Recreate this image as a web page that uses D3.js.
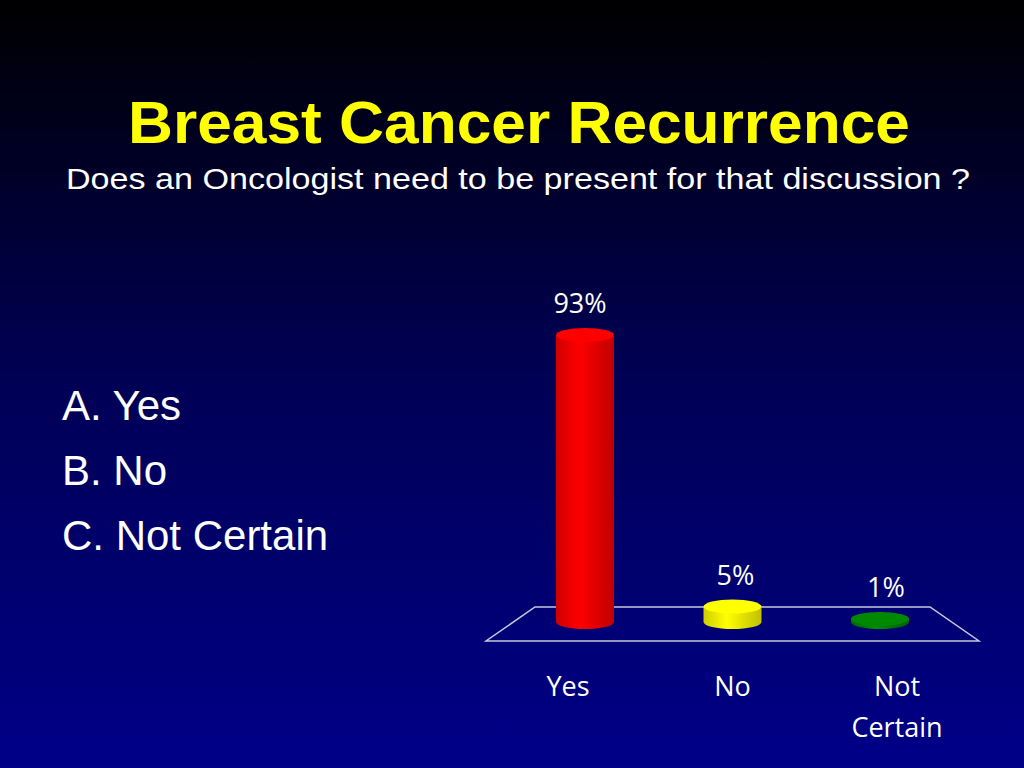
<!DOCTYPE html>
<html><head><meta charset="utf-8">
<script src="https://cdn.jsdelivr.net/npm/d3@7"></script>
<style>body{margin:0;overflow:hidden}</style>
</head><body>
<script>
const categories = ["Yes", "No", "Not Certain"];
const values = [93, 5, 1];
const valueLabels = ["93%", "5%", "1%"];
const colors = ["#ff0000", "#ffff00", "#008000"];
const options = ["A. Yes", "B. No", "C. Not Certain"];

const W = 1024, H = 768;
const svg = d3.select("body").append("svg").attr("width", W).attr("height", H);
const defs = svg.append("defs");
const bg = defs.append("linearGradient").attr("id","bg").attr("x1",0).attr("y1",0).attr("x2",0).attr("y2",1);
bg.append("stop").attr("offset","0%").attr("stop-color","#000000");
bg.append("stop").attr("offset","45%").attr("stop-color","#000050");
bg.append("stop").attr("offset","100%").attr("stop-color","#000088");
svg.append("rect").attr("width",W).attr("height",H).attr("fill","url(#bg)");

svg.append("text").attr("x",519).attr("y",143).attr("text-anchor","middle")
  .attr("font-family","Liberation Sans, Arial").attr("font-weight","bold").attr("font-size",60)
  .attr("textLength",782).attr("lengthAdjust","spacingAndGlyphs")
  .attr("fill","#ffff00").text("Breast Cancer Recurrence");
svg.append("text").attr("x",518).attr("y",189).attr("text-anchor","middle")
  .attr("font-family","Liberation Sans, Arial").attr("font-size",30)
  .attr("textLength",904).attr("lengthAdjust","spacingAndGlyphs")
  .attr("fill","#ffffff").text("Does an Oncologist need to be present for that discussion ?");

svg.selectAll("text.opt").data(options).enter().append("text").attr("class","opt")
  .attr("x",62).attr("y",(d,i)=>420+i*65).attr("font-family","Liberation Sans, Arial")
  .attr("font-size",42).attr("fill","#ffffff").text(d=>d);

// floor
svg.append("polygon").attr("points","535,607 930,607 979,641 486,641")
  .attr("fill","none").attr("stroke","#c8c8e0").attr("stroke-width",1.5);

const x = d3.scalePoint().domain(categories).range([585, 880]);
const y = d3.scaleLinear().domain([0,100]).range([622, 622-308.6]);
const rx = 29, ry = 7;

categories.forEach((c,i)=>{
  const g = defs.append("linearGradient").attr("id","cg"+i).attr("x1",0).attr("x2",1).attr("y1",0).attr("y2",0);
  const base = d3.color(colors[i]);
  g.append("stop").attr("offset","0%").attr("stop-color",base.darker(0.6));
  g.append("stop").attr("offset","40%").attr("stop-color",base.brighter(0.3));
  g.append("stop").attr("offset","100%").attr("stop-color",base.darker(0.8));
});

const bars = svg.selectAll("g.bar").data(categories).enter().append("g");
bars.each(function(c,i){
  const g = d3.select(this);
  const cx = x(c), yb = y(0), yt = y(values[i]);
  g.append("path").attr("d",`M${cx-rx},${yt} L${cx-rx},${yb} A${rx},${ry} 0 0 0 ${cx+rx},${yb} L${cx+rx},${yt} Z`)
    .attr("fill","url(#cg"+i+")");
  g.append("ellipse").attr("cx",cx).attr("cy",yt).attr("rx",rx).attr("ry",ry)
    .attr("fill",d3.color(colors[i]).brighter(0.2));
});

const valOff = [-5, 3, 6];
svg.selectAll("text.val").data(categories).enter().append("text")
  .attr("x",(c,i)=>x(c)+valOff[i]).attr("y",(c,i)=>y(values[i])-22)
  .attr("text-anchor","middle").attr("font-family","Open Sans, sans-serif").attr("font-size",27)
  .attr("fill","#ffffff").text((c,i)=>valueLabels[i]);

const catOff = [-17, 0, 17];
svg.selectAll("text.cat").data(categories).enter().append("text")
  .attr("x",(c,i)=>x(c)+catOff[i]).attr("y",696).attr("text-anchor","middle")
  .attr("font-family","Open Sans, sans-serif").attr("font-size",27).attr("fill","#ffffff")
  .each(function(c){
    const parts = c.split(" ");
    const t = d3.select(this), xx = t.attr("x");
    parts.forEach((p,j)=>t.append("tspan").attr("x",xx).attr("dy",j?41:0).text(p));
  });
</script>
</body></html>
